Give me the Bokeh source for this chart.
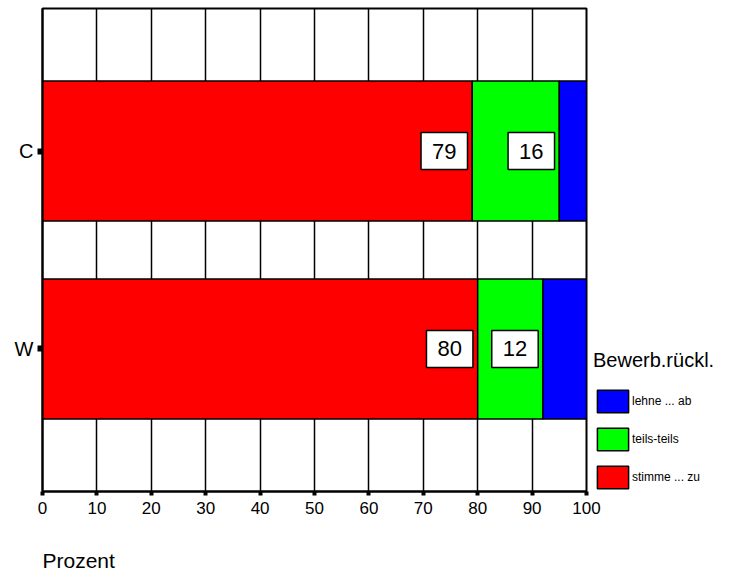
from bokeh.plotting import figure
from bokeh.models import (ColumnDataSource, FactorRange, Range1d, Legend, LegendItem,
                          Title, SingleIntervalTicker)
from bokeh.embed import file_html
from bokeh.resources import INLINE
from bokeh.core.properties import value

categories = ["W", "C"]
stimme = [80, 79]
teils = [12, 16]
lehne = [8, 5]
series_names = ["stimme ... zu", "teils-teils", "lehne ... ab"]
colors = ["#ff0000", "#00ff00", "#0000ff"]
x_ticks_step = 10

FONT = "Liberation Sans"

src = ColumnDataSource(dict(cat=categories, stimme=stimme, teils=teils, lehne=lehne))

p = figure(output_backend="svg", toolbar_location=None,
           y_range=FactorRange(*categories, range_padding=0.22),
           x_range=Range1d(0, 100),
           min_border_top=8, min_border_left=42, min_border_right=145, min_border_bottom=60,
           frame_width=544, frame_height=483)

rs = p.hbar_stack(["stimme", "teils", "lehne"], y="cat", height=0.707, color=colors,
                  line_color="black", line_width=1.5, source=src)

# value labels near right end of red and green segments
lab_x = []
lab_y = []
lab_t = []
for c, s, t in zip(categories, stimme, teils):
    lab_x += [s, s + t]
    lab_y += [c, c]
    lab_t += [str(s), str(t)]
lsrc = ColumnDataSource(dict(x=lab_x, y=lab_y, t=lab_t))
p.text(x="x", y="y", text="t", source=lsrc, x_offset=-28,
       text_align="center", text_baseline="middle",
       text_font=value(FONT), text_font_size="22px", text_color="black",
       background_fill_color="white", border_line_color="black", border_line_width=1.5,
       padding=(11, 11))

p.xaxis.ticker = SingleIntervalTicker(interval=x_ticks_step)
p.xgrid.ticker = SingleIntervalTicker(interval=x_ticks_step)
p.xgrid.grid_line_color = "black"
p.xgrid.grid_line_width = 1.5
p.xgrid.grid_line_alpha = 1
p.ygrid.grid_line_color = None

for ax in (p.xaxis[0], p.yaxis[0]):
    ax.axis_line_color = "black"
    ax.axis_line_width = 2
    ax.major_tick_line_color = "black"
    ax.major_tick_in = 0
    ax.minor_tick_line_color = None
    ax.major_label_text_font = FONT
    ax.major_label_text_color = "black"

p.xaxis.major_tick_line_width = 4
p.xaxis.major_tick_out = 4
p.yaxis.major_tick_line_width = 6
p.yaxis.major_tick_out = 5

p.xaxis.major_label_text_font_size = "17px"
p.xaxis.major_label_standoff = 6
p.yaxis.major_label_text_font_size = "20px"
p.yaxis.major_label_standoff = 4

p.outline_line_color = "black"
p.outline_line_width = 2
p.outline_line_alpha = 1

p.add_layout(Title(text="Prozent", align="left", text_font=FONT, text_font_size="21px",
                   text_font_style="normal", text_color="black", standoff=60, offset=0), "below")

items = [LegendItem(label=series_names[i], renderers=[rs[i]]) for i in (2, 1, 0)]
legend = Legend(items=items, location=(7, 0), title="Bewerb.rückl.",
                title_text_font=FONT, title_text_font_size="20px", title_text_font_style="normal",
                title_text_color="black",
                title_standoff=15, label_text_font=FONT, label_text_font_size="12px",
                label_text_color="black", label_text_baseline="bottom",
                glyph_width=39, glyph_height=28, label_height=28, spacing=10,
                label_standoff=0, padding=0, margin=0,
                border_line_color=None, background_fill_alpha=0)
p.add_layout(legend, "right")

open("out.html", "w").write(file_html(p, INLINE))
